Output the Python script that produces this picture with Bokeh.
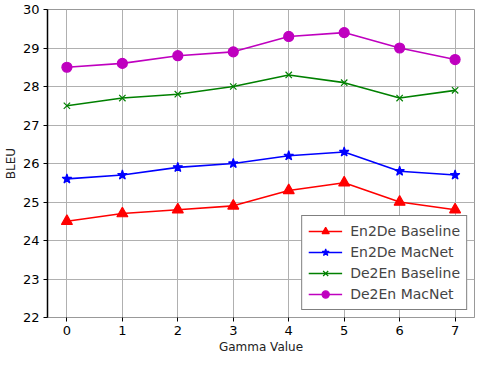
from bokeh.plotting import figure
from bokeh.models import FixedTicker, Range1d, Legend, LegendItem
from bokeh.embed import file_html
from bokeh.resources import INLINE

gamma = [0, 1, 2, 3, 4, 5, 6, 7]
en2de_baseline = [24.5, 24.7, 24.8, 24.9, 25.3, 25.5, 25.0, 24.8]
en2de_macnet = [25.6, 25.7, 25.9, 26.0, 26.2, 26.3, 25.8, 25.7]
de2en_baseline = [27.5, 27.7, 27.8, 28.0, 28.3, 28.1, 27.7, 27.9]
de2en_macnet = [28.5, 28.6, 28.8, 28.9, 29.3, 29.4, 29.0, 28.7]
y_ticks = [22, 23, 24, 25, 26, 27, 28, 29, 30]

FONT = "DejaVu Sans"

p = figure(width=476, height=356, output_backend="svg", toolbar_location=None,
           x_range=Range1d(-0.35, 7.35), y_range=Range1d(22, 30),
           min_border_top=9, min_border_right=2, min_border_left=0, min_border_bottom=0)

p.xaxis.ticker = FixedTicker(ticks=gamma)
p.yaxis.ticker = FixedTicker(ticks=y_ticks)
p.xaxis.axis_label = "Gamma Value"
p.yaxis.axis_label = "BLEU"
for ax in (p.xaxis[0], p.yaxis[0]):
    ax.axis_label_text_font = FONT
    ax.axis_label_text_font_style = "normal"
    ax.axis_label_text_font_size = "12px"
    ax.axis_label_text_color = "#222222"
    ax.major_label_text_font = FONT
    ax.major_label_text_font_size = "13px"
    ax.major_label_text_color = "black"
    ax.minor_tick_line_color = None
    ax.major_tick_in = 0
    ax.major_tick_out = 4
    ax.major_label_standoff = 4
    ax.axis_label_standoff = 2
p.yaxis.axis_line_color = "black"
p.yaxis.axis_line_width = 1.5
p.xaxis.axis_line_color = "#999999"
p.xaxis.major_tick_line_color = "black"
p.outline_line_color = "#999999"
p.outline_line_width = 1

p.xgrid.grid_line_color = "#b0b0b0"
p.ygrid.grid_line_color = "#b0b0b0"
p.xgrid.grid_line_width = 1
p.ygrid.grid_line_width = 1

series = [
    ("En2De Baseline", en2de_baseline, "red", "triangle", 11),
    ("En2De MacNet", en2de_macnet, "blue", "star", 10),
    ("De2En Baseline", de2en_baseline, "green", "x", 9),
    ("De2En MacNet", de2en_macnet, "#bf00bf", "circle", 10),
]
items = []
for name, ys, col, mk, sz in series:
    l = p.line(gamma, ys, line_color=col, line_width=1.6)
    m = p.scatter(gamma, ys, marker=mk, size=sz, fill_color=col, line_color=col, line_width=1.2)
    items.append(LegendItem(label=name, renderers=[l, m]))

legend = Legend(items=items, location="bottom_right")
legend.label_text_font = FONT
legend.label_text_font_size = "14px"
legend.border_line_color = "black"
legend.border_line_width = 1
legend.background_fill_alpha = 1
legend.margin = 7
legend.padding = 6
legend.spacing = 3
legend.glyph_width = 34
legend.label_standoff = 8
legend.label_height = 18
legend.glyph_height = 18
p.add_layout(legend)

open("out.html", "w").write(file_html(p, INLINE))
